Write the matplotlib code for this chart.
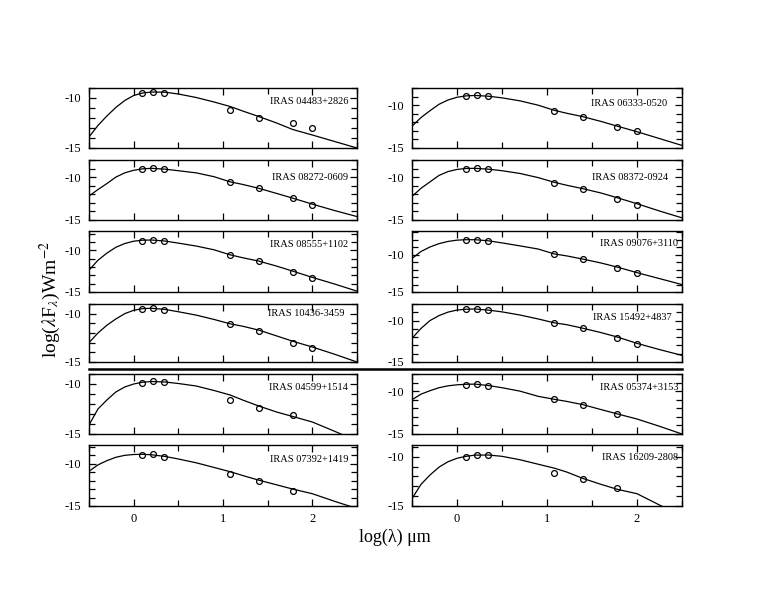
import matplotlib.pyplot as plt
from matplotlib.lines import Line2D
from matplotlib.ticker import MultipleLocator

plt.rcParams['font.family'] = ['Liberation Serif', 'DejaVu Serif']
plt.rcParams['mathtext.fontset'] = 'stix'
plt.rcParams['axes.unicode_minus'] = False

# log(lambda/um) of J, H, K and IRAS 12, 25, 60, 100 um
phot_x = [0.097, 0.217, 0.342, 1.079, 1.398, 1.778, 2.0]
# grid the model curves were read on
model_x = [-0.5, -0.4, -0.3, -0.2, -0.1, 0.0, 0.1, 0.2, 0.35, 0.5,
           0.7, 0.9, 1.08, 1.22, 1.4, 1.6, 1.78, 2.0, 2.25, 2.5]

# left column
name_04483 = 'IRAS 04483+2826'
phot_04483 = [-9.53, -9.37, -9.47, -11.2, -12.0, -12.53, -12.97]
model_04483 = [-13.9, -12.75, -11.8, -10.95, -10.25, -9.75, -9.5, -9.4, -9.42, -9.6,
               -9.95, -10.4, -10.85, -11.3, -11.85, -12.5, -13.15, -13.7, -14.35, -15.0]

name_08272 = 'IRAS 08272-0609'
phot_08272 = [-9.05, -8.97, -9.09, -10.6, -11.3, -12.47, -13.25]
model_08272 = [-12.2, -11.45, -10.75, -10.0, -9.5, -9.2, -9.03, -8.97, -9.07, -9.25,
               -9.5, -9.95, -10.55, -10.85, -11.3, -11.9, -12.45, -13.15, -13.9, -14.6]

name_08555 = 'IRAS 08555+1102'
phot_08555 = [-8.86, -8.78, -8.9, -10.58, -11.31, -12.59, -13.31]
model_08555 = [-12.4, -11.2, -10.35, -9.65, -9.2, -8.92, -8.8, -8.78, -8.9, -9.15,
               -9.5, -9.95, -10.55, -10.9, -11.3, -11.9, -12.5, -13.25, -14.05, -14.9]

name_10436 = 'IRAS 10436-3459'
phot_10436 = [-9.51, -9.44, -9.58, -11.08, -11.77, -13.02, -13.54]
model_10436 = [-13.0, -12.0, -11.2, -10.55, -10.0, -9.65, -9.48, -9.44, -9.56, -9.8,
               -10.15, -10.6, -11.05, -11.3, -11.7, -12.3, -12.85, -13.45, -14.2, -15.0]

name_04599 = 'IRAS 04599+1514'
phot_04599 = [-9.9, -9.73, -9.83, -11.58, -12.42, -13.15]
model_04599 = [-14.1, -12.5, -11.6, -10.8, -10.3, -10.0, -9.82, -9.75, -9.8, -9.95,
               -10.2, -10.65, -11.1, -11.6, -12.2, -12.8, -13.25, -13.8, -14.73, -15.7]

name_07392 = 'IRAS 07392+1419'
phot_07392 = [-8.99, -8.91, -9.19, -11.17, -12.08, -13.22]
model_07392 = [-10.9, -10.15, -9.65, -9.25, -9.02, -8.92, -8.9, -8.95, -9.15, -9.45,
               -9.9, -10.45, -10.95, -11.4, -11.95, -12.5, -13.0, -13.55, -14.45, -15.3]

# right column
name_06333 = 'IRAS 06333-0520'
phot_06333 = [-8.95, -8.87, -8.99, -10.69, -11.4, -12.51, -13.02]
model_06333 = [-12.45, -11.45, -10.65, -9.9, -9.4, -9.08, -8.92, -8.87, -8.96, -9.15,
               -9.5, -10.0, -10.6, -10.95, -11.35, -11.9, -12.45, -13.1, -13.9, -14.7]

name_08372 = 'IRAS 08372-0924'
phot_08372 = [-9.06, -8.98, -9.09, -10.63, -11.38, -12.52, -13.27]
model_08372 = [-12.25, -11.3, -10.55, -9.8, -9.35, -9.1, -8.99, -8.97, -9.07, -9.25,
               -9.57, -10.05, -10.6, -10.95, -11.35, -11.85, -12.4, -13.1, -13.95, -14.75]

name_09076 = 'IRAS 09076+3110'
phot_09076 = [-8.02, -8.02, -8.15, -9.91, -10.59, -11.76, -12.43]
model_09076 = [-10.5, -9.55, -8.95, -8.5, -8.2, -8.03, -7.97, -7.97, -8.12, -8.4,
               -8.8, -9.22, -9.88, -10.15, -10.58, -11.1, -11.65, -12.4, -13.2, -14.0]

name_15492 = 'IRAS 15492+4837'
phot_15492 = [-8.64, -8.64, -8.77, -10.26, -10.95, -12.09, -12.77]
model_15492 = [-12.15, -10.95, -10.0, -9.4, -8.98, -8.73, -8.63, -8.6, -8.74, -8.95,
               -9.33, -9.8, -10.27, -10.5, -10.93, -11.45, -11.98, -12.75, -13.5, -14.2]

name_05374 = 'IRAS 05374+3153'
phot_05374 = [-9.26, -9.18, -9.45, -10.94, -11.6, -12.66]
model_05374 = [-11.0, -10.35, -9.95, -9.6, -9.38, -9.26, -9.2, -9.18, -9.35, -9.6,
               -10.0, -10.6, -10.95, -11.2, -11.58, -12.15, -12.65, -13.25, -14.1, -15.0]

name_16209 = 'IRAS 16209-2808'
phot_16209 = [-10.06, -9.82, -9.82, -11.63, -12.27, -13.16]
model_16209 = [-14.25, -12.8, -11.85, -11.05, -10.5, -10.15, -9.95, -9.83, -9.82, -9.95,
               -10.3, -10.75, -11.15, -11.55, -12.2, -12.8, -13.3, -13.75, -14.9, -16.0]

left_col = [(name_04483, phot_04483, model_04483, -9.0),
            (name_08272, phot_08272, model_08272, -8.0),
            (name_08555, phot_08555, model_08555, -7.7),
            (name_10436, phot_10436, model_10436, -9.0),
            (name_04599, phot_04599, model_04599, -9.0),
            (name_07392, phot_07392, model_07392, -7.8)]
right_col = [(name_06333, phot_06333, model_06333, -8.0),
             (name_08372, phot_08372, model_08372, -8.0),
             (name_09076, phot_09076, model_09076, -6.8),
             (name_15492, phot_15492, model_15492, -8.0),
             (name_05374, phot_05374, model_05374, -8.0),
             (name_16209, phot_16209, model_16209, -8.8)]

W, H = 770, 595
row_top = [88, 160, 231, 304, 374, 445]
row_bot = [148, 220, 292, 362, 434, 506]
col_left = [89, 412]
col_right = [357, 682]
# label offsets (px from top-right corner) as seen in the original
lab_off = [[(-9, -14), (-9, -17), (-9, -13), (-12, -10), (-9, -14), (-9, -15)],
           [(-15, -16), (-14, -17), (-4, -12), (-10, -13), (-4, -14), (-4, -12)]]

fig = plt.figure(figsize=(W / 100, H / 100), dpi=100)

for c, col in enumerate([left_col, right_col]):
    for r, (name, phot, model, ytop) in enumerate(col):
        ax = fig.add_axes([col_left[c] / W, 1 - row_bot[r] / H,
                           (col_right[c] - col_left[c]) / W,
                           (row_bot[r] - row_top[r]) / H])
        ax.plot(model_x, model, color='black', lw=0.9)
        ax.plot(phot_x[:len(phot)], phot, 'o', mfc='none', mec='black',
                ms=4.2, mew=0.9)
        ax.set_xlim(-0.5, 2.5)
        ax.set_ylim(-15, ytop)
        ax.xaxis.set_major_locator(MultipleLocator(1))
        ax.xaxis.set_minor_locator(MultipleLocator(0.5))
        ax.yaxis.set_major_locator(MultipleLocator(5))
        ax.yaxis.set_minor_locator(MultipleLocator(1))
        ax.tick_params(which='both', direction='in', top=True, right=True,
                       labelsize=9, width=0.9)
        ax.tick_params(axis='y', pad=6)
        ax.tick_params(axis='x', pad=5)
        ax.tick_params(which='major', length=5)
        ax.tick_params(which='minor', length=4)
        if r < 5:
            ax.tick_params(labelbottom=False)
        for s in ax.spines.values():
            s.set_linewidth(1.0)
        ax.annotate(name, xy=(1, 1), xycoords='axes fraction',
                    xytext=lab_off[c][r], textcoords='offset pixels',
                    ha='right', va='center', fontsize=7.5)

# rule between the two groups
fig.add_artist(Line2D([89 / W, 682 / W], [1 - 369 / H] * 2,
                      color='black', lw=1.8))

fig.text(50 / W, 1 - 300 / H, r'log($\lambda$F$_\lambda$)Wm$^{-2}$',
         rotation=90, ha='center', va='center', fontsize=14)
fig.text(395 / W, 1 - 537 / H, 'log(λ) μm', ha='center', va='center',
         fontsize=13)

fig.savefig('out.png', dpi=100)
